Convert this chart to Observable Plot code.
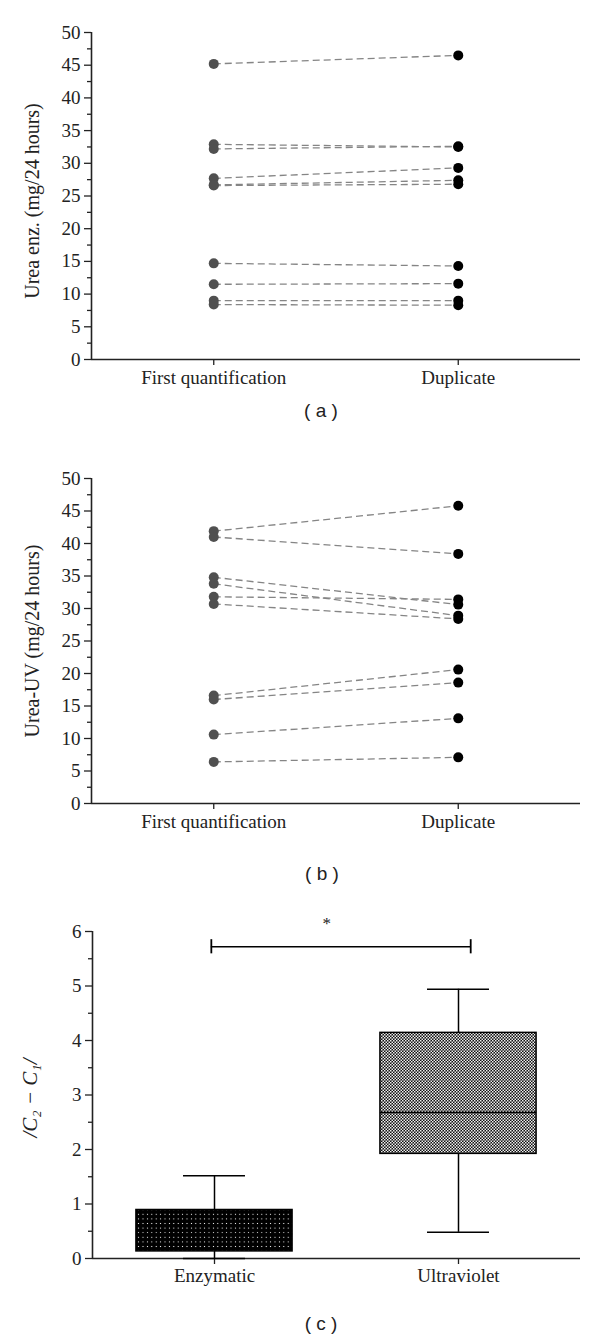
<!DOCTYPE html>
<html><head><meta charset="utf-8">
<script src="https://cdn.jsdelivr.net/npm/d3@7"></script>
<script src="https://cdn.jsdelivr.net/npm/@observablehq/plot@0.6"></script>
<style>
body{margin:0;background:#fff;width:600px;height:1342px;position:relative;overflow:hidden}
.panel{position:absolute;left:0}
.cap{position:absolute;font-family:"Liberation Sans",Arial,sans-serif;font-size:19px;color:#222;transform:translate(-50%,-50%);white-space:pre}
svg text{font-family:"Liberation Serif","Times New Roman",serif}
</style></head><body>
<div id="a" class="panel" style="top:0px"></div>
<div id="b" class="panel" style="top:445px"></div>
<div id="c" class="panel" style="top:890px"></div>
<div class="cap" style="left:321px;top:411px">( a )</div>
<div class="cap" style="left:322px;top:874px">( b )</div>
<div class="cap" style="left:321px;top:1324px">( c )</div>
<script>
// ---- data ----
const categories = ["First quantification", "Duplicate"];
const ureaEnzFirst = [45.2, 32.9, 32.2, 27.7, 26.7, 26.6, 14.7, 11.5, 9.0, 8.4];
const ureaEnzDup   = [46.5, 32.5, 32.6, 29.3, 27.4, 26.8, 14.3, 11.6, 9.0, 8.3];
const ureaUVFirst  = [41.9, 41.0, 34.8, 33.8, 31.8, 30.7, 16.6, 16.0, 10.6, 6.4];
const ureaUVDup    = [45.8, 38.4, 30.6, 28.9, 31.4, 28.4, 20.6, 18.6, 13.1, 7.1];
const yTicksAB = [0, 5, 10, 15, 20, 25, 30, 35, 40, 45, 50];
const yMinorAB = [2.5, 7.5, 12.5, 17.5, 22.5, 27.5, 32.5, 37.5, 42.5, 47.5];

const methods   = ["Enzymatic", "Ultraviolet"];
const boxMin    = [0.0, 0.48];
const boxQ1     = [0.13, 1.92];
const boxMedian = [0.45, 2.68];
const boxQ3     = [0.89, 4.14];
const boxMax    = [1.52, 4.94];
const yTicksC = [0, 1, 2, 3, 4, 5, 6];
const yMinorC = [0.5, 1.5, 2.5, 3.5, 4.5, 5.5];
const sigY = 5.72;
const sigLabel = "*";

const AX = "#222";
const SERIF = '"Liberation Serif", "Times New Roman", serif';
const FS = 19;
const baseStyle = {fontFamily: SERIF, fontSize: FS + "px", color: AX, background: "#fff", overflow: "visible"};
const tf = {fontFamily: SERIF, fontSize: FS};

function paired(first, dup, label, mt, mb, cats, dyLabel) {
  const rows = first.map((v, i) => ({y1: v, y2: dup[i]}));
  return Plot.plot({
    width: 600, height: 400, marginLeft: 91, marginRight: 20, marginTop: mt, marginBottom: mb,
    x: {domain: [0.5, 2.5]}, y: {domain: [0, 50]},
    style: baseStyle,
    marks: [
      Plot.axisY({...tf, ticks: yTicksAB, tickSize: 7, tickPadding: 4, tickFormat: d => String(d), label: null, strokeWidth: 1.3}),
      Plot.axisY({ticks: yMinorAB, tickSize: 4, tickFormat: () => "", label: null, strokeWidth: 1.3}),
      Plot.axisX({...tf, ticks: [1, 2], tickFormat: d => cats[d - 1], tickSize: 6, tickPadding: 5, label: null, strokeWidth: 1.3}),
      Plot.ruleX([0.5], {stroke: AX, strokeWidth: 1.6}),
      Plot.ruleY([0], {stroke: AX, strokeWidth: 1.6}),
      Plot.text([label], {frameAnchor: "left", textAnchor: "middle", rotate: -90, dx: -59, dy: dyLabel, text: d => d, fontFamily: SERIF, fontSize: 20, fill: AX}),
      Plot.link(rows, {x1: () => 1, x2: () => 2, y1: "y1", y2: "y2", stroke: "#858585", strokeWidth: 1.3, strokeDasharray: "7,4"}),
      Plot.dot(rows, {x: () => 1, y: "y1", r: 5, fill: "#505050"}),
      Plot.dot(rows, {x: () => 2, y: "y2", r: 5, fill: "#000"})
    ]
  });
}

document.getElementById("a").append(paired(ureaEnzFirst, ureaEnzDup, "Urea enz. (mg/24 hours)", 32, 41, categories, 5));
document.getElementById("b").append(paired(ureaUVFirst, ureaUVDup, "Urea-UV (mg/24 hours)", 33, 42, categories, 0));

// ---- panel c ----
const boxes = methods.map((m, i) => ({x: i + 1, name: m, min: boxMin[i], q1: boxQ1[i], med: boxMedian[i], q3: boxQ3[i], max: boxMax[i]}));
const hw = 0.32, cw = 0.127;
const svgC = Plot.plot({
  width: 600, height: 400, marginLeft: 92, marginRight: 20, marginTop: 41, marginBottom: 32,
  x: {domain: [0.5, 2.5]}, y: {domain: [0, 6]},
  style: baseStyle,
  marks: [
    Plot.axisY({...tf, ticks: yTicksC, tickSize: 7, tickPadding: 4, tickFormat: d => String(d), label: null, strokeWidth: 1.3}),
    Plot.axisY({ticks: yMinorC, tickSize: 4, tickFormat: () => "", label: null, strokeWidth: 1.3}),
    Plot.axisX({...tf, ticks: [1, 2], tickFormat: d => methods[d - 1], tickSize: 6, tickPadding: 4, label: null, strokeWidth: 1.3}),
    Plot.ruleX([0.5], {stroke: AX, strokeWidth: 1.6}),
    Plot.ruleY([0], {stroke: AX, strokeWidth: 1.6}),
    Plot.text(["/C\u2082 \u2212 C\u2081/"], {frameAnchor: "left", textAnchor: "middle", rotate: -90, dx: -62, dy: 3, text: d => d, fontFamily: SERIF, fontSize: 21, fontStyle: "italic", fill: AX}),
    Plot.ruleX(boxes, {x: "x", y1: "q3", y2: "max", stroke: "#000", strokeWidth: 1.5}),
    Plot.ruleX(boxes, {x: "x", y1: "min", y2: "q1", stroke: "#000", strokeWidth: 1.5}),
    Plot.ruleY(boxes, {y: "max", x1: d => d.x - cw, x2: d => d.x + cw, stroke: "#000", strokeWidth: 1.5}),
    Plot.ruleY(boxes, {y: "min", x1: d => d.x - cw, x2: d => d.x + cw, stroke: "#000", strokeWidth: 1.5}),
    Plot.rect([boxes[0]], {x1: d => d.x - hw, x2: d => d.x + hw, y1: "q1", y2: "q3", fill: "url(#dotsPat)", stroke: "#000", strokeWidth: 1.5}),
    Plot.rect([boxes[1]], {x1: d => d.x - hw, x2: d => d.x + hw, y1: "q1", y2: "q3", fill: "url(#checkPat)", stroke: "#000", strokeWidth: 1.5}),
    Plot.ruleY(boxes, {y: "med", x1: d => d.x - hw, x2: d => d.x + hw, stroke: "#000", strokeWidth: 1.5}),
    Plot.ruleY([sigY], {y: d => d, x1: 1 - 0.013, x2: 2 + 0.05, stroke: "#000", strokeWidth: 1.5}),
    Plot.ruleX([1 - 0.013, 2 + 0.05], {x: d => d, y1: sigY - 0.13, y2: sigY + 0.13, stroke: "#000", strokeWidth: 1.8}),
    Plot.text([sigLabel], {x: 1.46, y: sigY + 0.42, text: d => d, fontFamily: '"DejaVu Sans", sans-serif', fontSize: 17, fill: AX})
  ]
});
const defs = d3.select(svgC).insert("defs", ":first-child");
const pd = defs.append("pattern").attr("id", "dotsPat").attr("patternUnits", "userSpaceOnUse").attr("width", 4.4).attr("height", 4.6);
pd.append("rect").attr("width", 4.4).attr("height", 4.6).attr("fill", "#000");
pd.append("rect").attr("x", 1.7).attr("y", 1.8).attr("width", 1).attr("height", 1).attr("fill", "#fff");
const pc = defs.append("pattern").attr("id", "checkPat").attr("patternUnits", "userSpaceOnUse").attr("width", 3).attr("height", 3);
pc.append("rect").attr("width", 3).attr("height", 3).attr("fill", "#111");
pc.append("rect").attr("width", 1.5).attr("height", 1.5).attr("fill", "#eee");
pc.append("rect").attr("x", 1.5).attr("y", 1.5).attr("width", 1.5).attr("height", 1.5).attr("fill", "#eee");
document.getElementById("c").append(svgC);
</script>
</body></html>
